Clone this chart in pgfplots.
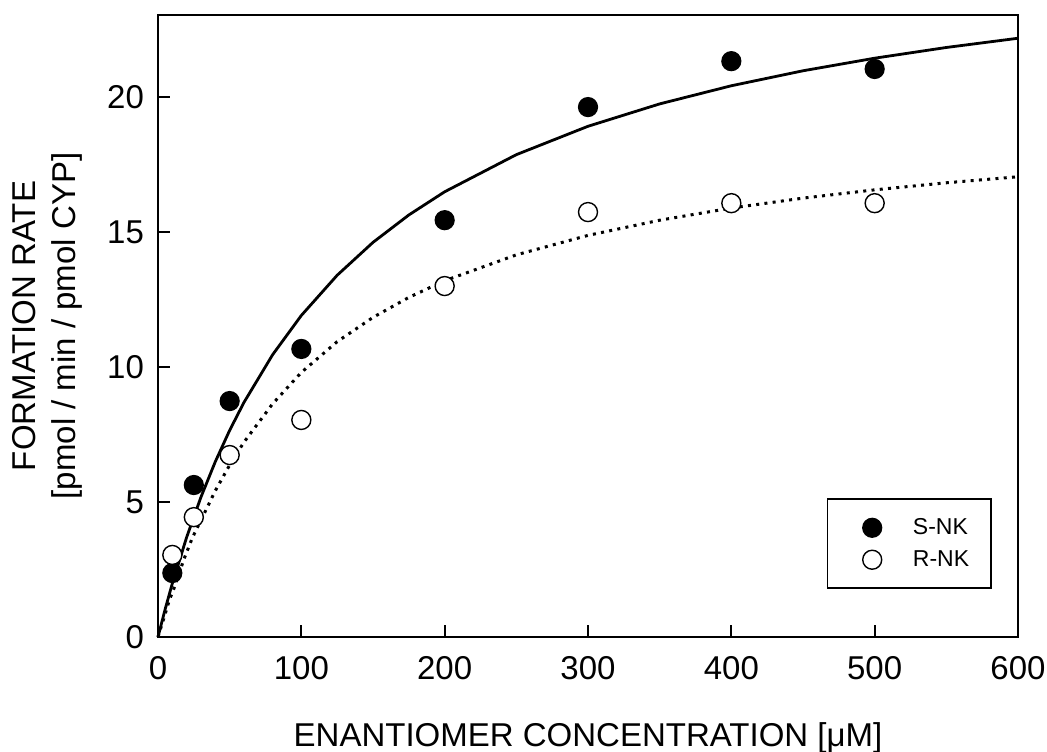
\documentclass[border=0pt]{standalone}
\usepackage{pgfplots}
\pgfplotsset{compat=1.18}
\usepackage{fontspec}
\setmainfont{Liberation Sans}
\begin{document}
\begin{tikzpicture}
\useasboundingbox (-79pt,-57pt) rectangle (444.5pt,318.5pt);
\begin{axis}[
  at={(0,0)}, anchor=south west,
  scale only axis, width=430pt, height=311pt,
  xmin=0, xmax=600, ymin=0, ymax=23.04,
  xtick={0,100,...,600}, ytick={0,5,...,20},
  tick pos=left, tick align=inside, major tick length=6pt,
  axis line style={line width=1pt}, every tick/.style={black, line width=1pt},
  /pgf/number format/assume math mode=true,
  ticklabel style={font=\fontsize{16.5}{18}\selectfont},
  xticklabel style={yshift=-6.3pt},
  yticklabel style={xshift=-3.5pt},
  xlabel={ENANTIOMER CONCENTRATION [μM]},
  xlabel style={at={(axis description cs:0.5,-0.1764)}, anchor=base, font=\fontsize{16.5}{18}\selectfont},
  ylabel={FORMATION RATE\\{}[pmol / min / pmol CYP]},
  ylabel style={at={(axis description cs:-0.0872,0.5)}, anchor=south, inner sep=0pt, align=center, font=\fontsize{16.5}{20}\selectfont},
  legend style={at={(axis description cs:0.9698,0.0772)}, anchor=south east, draw=black, line width=0.85pt,
    font=\fontsize{11.5}{13}\selectfont, inner xsep=9pt, inner ysep=7.5pt, row sep=2.5pt,
    /tikz/every odd column/.append style={column sep=13.2pt}},
  legend image code/.code={\path (-13pt,0pt) (4.75pt,0pt); \draw[#1] plot coordinates {(0pt,0pt)};},
  legend cell align=left,
  clip=false,
]
% fitted curves (drawn first)
\addplot[black, line width=1.4pt, forget plot] coordinates {
(0,0) (5,1.031) (10,1.985) (20,3.697) (30,5.187) (40,6.497) (50,7.657) (60,8.692)
(80,10.459) (100,11.911) (125,13.4) (150,14.618) (175,15.633) (200,16.492)
(250,17.867) (300,18.918) (350,19.747) (400,20.419) (450,20.974) (500,21.44)
(550,21.837) (600,22.179)};
\addplot[black, line width=1.5pt, dash pattern=on 1.5pt off 2.65pt, forget plot] coordinates {
(0,0) (4,0.68) (8,1.38) (12,1.92) (18,2.87) (24,3.68) (30,4.33) (40,5.42) (50,6.37) (60,7.22)
(80,8.64) (100,9.80) (125,10.94) (150,11.84) (175,12.58) (200,13.197)
(250,14.156) (300,14.877) (350,15.439) (400,15.889) (450,16.257) (500,16.564)
(550,16.825) (600,17.048)};
% data
\addplot[only marks, mark=*, mark size=4.75pt, mark options={fill=black, draw=black, line width=0.6pt}] coordinates {
(10,2.37) (25,5.63) (50,8.74) (100,10.67) (200,15.44) (300,19.63) (400,21.33) (500,21.04)};
\addlegendentry{S-NK}
\addplot[only marks, mark=*, mark size=4.75pt, mark options={fill=white, draw=black, line width=0.7pt}] coordinates {
(10,3.04) (25,4.44) (50,6.74) (100,8.04) (200,13.0) (300,15.74) (400,16.07) (500,16.07)};
\addlegendentry{R-NK}
\end{axis}
\end{tikzpicture}
\end{document}
